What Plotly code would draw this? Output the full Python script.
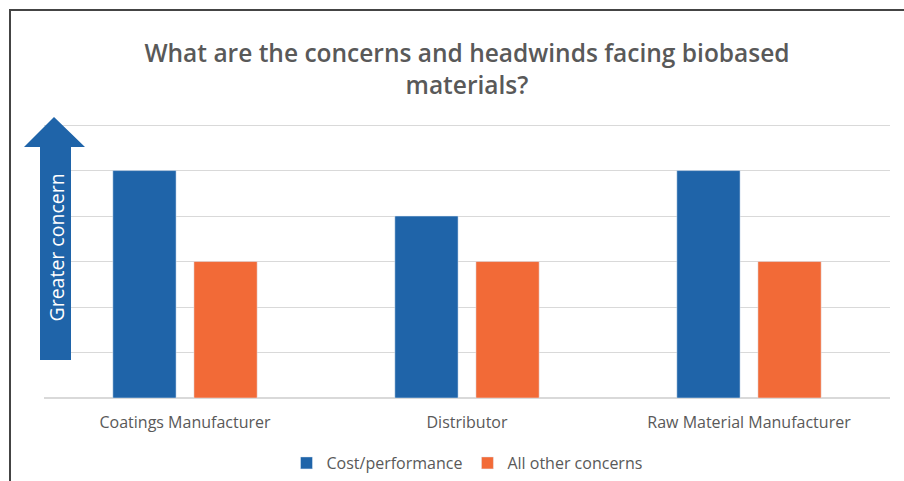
import plotly.graph_objects as go

categories = ["Coatings Manufacturer", "Distributor", "Raw Material Manufacturer"]
cost_performance = [5, 4, 5]
all_other = [3, 3, 3]
series_names = ["Cost/performance", "All other concerns"]
title_text = "What are the concerns and headwinds facing biobased<br>materials?"
arrow_label = "Greater concern"

BLUE = "#1F64A9"
ORANGE = "#F26A37"
GRAY = "#595959"
W, H = 904, 481
YMAX = 6.2
L, R, B = 44, 14, 83
T = int(round(H - B - 273 * YMAX / 6))
pw, ph = W - L - R, H - T - B

def px(x):
    return (x - L) / pw

def py(y):
    return (H - B - y) / ph

fig = go.Figure()
fig.add_bar(x=categories, y=cost_performance, name=series_names[0], marker_color=BLUE)
fig.add_bar(x=categories, y=all_other, name=series_names[1], marker_color=ORANGE)

arrow = [(54, 117), (85, 147), (71, 147), (71, 360), (40, 360), (40, 147), (24, 147)]
path = "M " + " L ".join(f"{px(a)},{py(b)}" for a, b in arrow) + " Z"

fig.update_layout(
    width=W, height=H,
    margin=dict(l=L, r=R, t=T, b=B, autoexpand=False),
    paper_bgcolor="white", plot_bgcolor="white",
    font=dict(family="Open Sans, Liberation Sans, sans-serif", color=GRAY),
    title=dict(text=title_text, x=0.5, xref="paper", xanchor="center",
               y=1 - 62 / H, yanchor="middle",
               font=dict(size=24.5, color=GRAY, family="Open Sans, sans-serif", weight=600)),
    barmode="group", bargap=0.425, bargroupgap=0.22,
    xaxis=dict(showgrid=False, showline=False, ticks="", ticklabelstandoff=13,
               tickfont=dict(size=16, color=GRAY)),
    yaxis=dict(range=[0, YMAX], tickvals=[0, 1, 2, 3, 4, 5, 6], showticklabels=False, showgrid=True,
               gridcolor="#D9D9D9", gridwidth=1, zeroline=True, zerolinecolor="#D9D9D9",
               fixedrange=True),
    legend=dict(orientation="h", x=0.5, xanchor="center", y=py(463), yanchor="middle",
                font=dict(size=16, color=GRAY), traceorder="normal", itemwidth=30),
    showlegend=True,
    shapes=[
        dict(type="path", path=path, xref="paper", yref="paper",
             fillcolor=BLUE, line=dict(width=0), layer="above"),
        dict(type="rect", xref="paper", yref="paper",
             x0=px(10), x1=px(912), y0=py(10), y1=py(490),
             line=dict(color="#444444", width=2), fillcolor="rgba(0,0,0,0)"),
    ],
    annotations=[
        dict(text=arrow_label, xref="paper", yref="paper", x=px(55.5), y=py(248),
             showarrow=False, textangle=-90, font=dict(size=19.5, color="white"),
             xanchor="center", yanchor="middle"),
    ],
)

fig.write_html("out.html")
